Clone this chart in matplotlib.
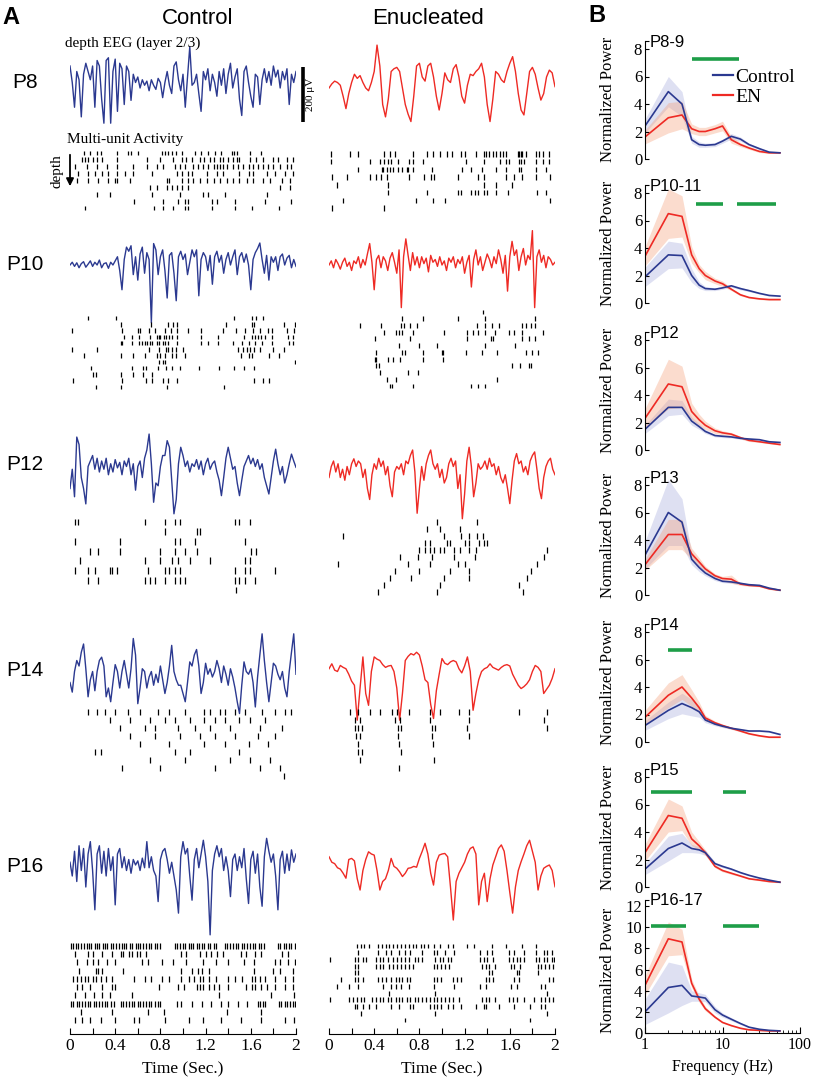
import numpy as np
import matplotlib
matplotlib.use('Agg')
import matplotlib.pyplot as plt
from matplotlib.patches import FancyArrowPatch
from matplotlib.lines import Line2D

SERIF = ['Liberation Serif', 'DejaVu Serif']
SANS = ['Liberation Sans', 'DejaVu Sans']
plt.rcParams['font.family'] = SERIF

BLUE = '#2b3990'
RED = '#ee2a24'
BLUE_FILL = (0.58, 0.60, 0.84, 0.30)
RED_FILL = (0.96, 0.62, 0.47, 0.36)
GREEN = '#1e9e48'

# ---------------- Panel A: depth EEG traces (uV) ----------------
p8_ctrl_eeg = [80, 20, -70, 60, 30, -105, 50, 90, 60, 30, 80, -70, 100, 80, -40, -128, 100, 110, -128, 60,
               105, -85, 90, 70, -60, 80, 60, -45, 50, 20, 40, 0, 30, 10, 25, -10, 30, 10, -5, 35,
               20, -35, 20, 60, 10, -20, 80, 95, 30, -10, 50, -70, 40, 150, 10, 20, 50, -20, -85, 60,
               30, 70, -10, 50, 20, -30, 60, 10, 70, -20, 50, 90, 0, 40, 70, -40, -100, 60, 80, 20,
               -30, -70, 50, 40, -60, 30, 70, 20, 60, 10, 80, 40, 65, 0, 60, 30, 70, -60, 50, 20, 60]
p8_en_eeg = [0, 15, 25, 20, 10, -30, -75, -20, 20, 50, 35, 45, 20, 0, -10, 20, 60, 156, 80, -60,
             -105, -40, 60, 70, 75, 60, 0, -60, -95, -122, -30, 80, 90, 40, 25, 80, 90, 40, -30, -80,
             -20, 55, 30, 20, 70, 85, 40, -30, -55, 10, 50, 45, 60, 70, 90, 40, -60, -122, -40, 60,
             50, 30, 20, 60, 90, 114, 60, -20, -80, -98, -20, 60, 75, 50, 0, -44, -20, 40, 65, 55, 5]
p10_ctrl_eeg = [0, 10, -5, 8, -10, 5, 12, -8, 3, 15, -5, 10, 0, 18, -10, 5, 8, -12, 10, 0,
                15, 30, -20, -90, 20, 65, 50, 70, -35, 30, -55, 40, 65, -30, 45, 20, -210, 78, 55, -35,
                30, 55, -20, -120, 35, 45, -30, -130, 30, 50, 20, 40, -35, 10, 55, 30, 55, -112, 20, 45,
                30, -20, 35, -70, 30, 50, 10, 35, -30, 20, 45, 0, 30, 55, -35, 30, 45, 10, 40, 0,
                -90, 20, 45, 60, 80, 20, -30, 35, -55, 30, 10, 30, -20, 30, 40, 0, 25, 35, -10, 20, -5]
p10_en_eeg = [0, 15, -10, 20, 5, -15, 10, 25, -5, 10, -20, 15, 5, 30, -10, 20, 0, 40, 78, 10,
              -90, 20, 35, -10, 30, 15, -20, 25, 45, 10, -30, 55, -155, 30, 95, 35, -20, 45, 0, 30,
              -10, 30, 5, 25, -25, 35, 10, 20, -5, 30, 0, 15, -20, 25, 10, 30, -10, 20, 5, 30,
              -30, 10, 35, -80, 20, 55, 0, 30, -20, 10, 40, 20, -10, 30, 5, 55, 20, -30, 35, -95,
              30, 86, 35, 55, -20, 30, 60, 0, 35, 20, 125, -155, 30, 55, 10, 35, -10, 30, 20, 0, 10]
p12_ctrl_eeg = [-60, 10, -90, 127, 100, -20, -60, -116, 20, 40, 60, 10, 50, 0, 40, 10, 50, -10, 30, 0,
                45, 15, 35, -10, 40, 20, 50, -10, 30, -66, 20, 40, -20, 50, 80, 138, 30, -110, -40, -50,
                20, 60, 60, 114, 90, -30, -152, -100, 30, 90, 60, 20, 40, 0, 30, 20, 45, 10, 40, -10,
                30, 50, 10, 30, 40, 0, -30, -86, -20, 50, 90, 50, 10, 20, -40, -86, -30, 20, 40, 60,
                30, 50, 20, 45, 10, 30, -20, -50, -80, -20, 40, 83, 30, -10, 20, -40, -10, 30, 65, 40, 17]
p12_en_eeg = [-20, 20, 40, 0, 30, -20, 10, -30, 20, -10, 30, 48, 20, 40, 30, -20, 10, -60, -100, -10,
              30, 10, 50, 20, 40, -10, 20, -50, -90, 0, 20, 10, 30, -10, 40, 30, 60, 80, 0, -150,
              -60, 20, -30, 30, 60, 80, 30, 10, 30, -20, 10, -40, -20, 30, 50, 20, 40, -60, -10, -170,
              -80, 40, 90, 20, -90, -40, 30, 10, 20, 40, 10, 50, 20, 30, -10, 20, -20, -40, -10, -60,
              -115, -30, 40, 67, 30, 40, 0, 20, -10, 40, 60, 73, 10, -60, -97, -20, 20, 40, 50, 10, -10]
p14_ctrl_eeg = [-20, -55, 20, 60, 40, 90, 120, 30, -72, -10, 20, -50, 20, 60, 72, 40, -72, -40, -90, -20,
                45, 20, -40, 20, 60, 10, -40, 30, 140, 80, -97, -40, 30, 20, -40, 0, 20, -30, 10, -20,
                40, -10, -60, -20, 40, 115, 20, -10, -30, -30, -60, -90, -20, 55, 40, 80, 100, 40, -60, -20,
                50, 10, 30, 0, 20, 60, 30, -20, 40, 10, -30, 30, 0, -40, -90, -133, -30, 55, 20, 10,
                30, -20, -109, 0, 80, 157, 60, -20, -90, -20, 50, 40, 10, -10, 20, -40, -72, 20, 90, 157, 10]
p14_en_eeg = [30, 48, 25, 20, 42, 35, 30, 10, -15, -30, -157, -40, 73, -60, -103, 20, 73, 65, 60, 45,
              35, 40, 42, 20, -40, -157, -60, 60, 75, 85, 80, 90, 80, 40, -10, -20, -100, -151, -50, 10,
              67, 50, 45, 55, 60, 55, 30, 15, 40, 73, 20, -121, -60, -10, 20, 30, 35, 48, 35, 30,
              25, 35, 42, 45, 40, 10, -10, -30, -42, -35, -25, -10, 20, 42, 35, 20, -60, -45, -30, -5, 30]
p16_ctrl_eeg = [10, -40, 50, -60, 70, -20, 60, -80, 40, 85, -20, -163, 40, 70, -30, 50, -40, 60, -20, 30,
                -145, 40, 60, -10, 30, -20, 20, -30, 20, 0, 15, -20, 25, -10, 85, -10, 30, -20, -40, -133,
                20, 50, 60, 20, -30, 10, -40, -90, -175, 30, 85, 40, 60, -40, -128, 20, 60, -10, 40, 90,
                30, -60, -254, -20, 40, 70, 30, 60, -20, 30, -20, -115, 20, 40, -20, 30, -10, 60, -50, -140,
                20, 50, -30, 40, -80, -150, 30, 97, 50, 10, 40, -40, -163, 20, 50, -30, 40, -20, 55, 10, 40]
p16_en_eeg = [30, 10, 5, -10, -15, -30, -48, 20, 24, 15, -50, -91, -20, 20, 48, 40, 36, -20, -91, -60,
              -50, -20, 24, -5, -12, -25, -42, -30, -12, -10, -5, -8, 24, 50, 79, 40, -30, -73, 10, 36,
              40, 42, 30, -80, -200, -60, -30, -10, 10, 40, 60, 66, 40, -145, -60, -30, -133, -50, 0, 30,
              60, 73, 50, -20, -100, -175, -80, -20, 12, 40, 70, 90, 50, 10, -91, -40, -12, -5, 0, -20, -79]

# ---------------- Panel A: multi-unit spike times (s), rows top to bottom ----------------
p8_ctrl_spk = [
    [0.12, 0.18, 0.24, 0.27, 0.42, 0.51, 0.54, 0.60, 0.81, 0.84, 0.87, 0.90, 0.94, 0.99, 1.11, 1.16, 1.22, 1.28, 1.34, 1.43, 1.45, 1.48, 1.59, 1.69],
    [0.11, 0.13, 0.16, 0.20, 0.24, 0.28, 0.42, 0.68, 0.80, 0.91, 0.99, 1.03, 1.08, 1.15, 1.19, 1.24, 1.27, 1.33, 1.35, 1.40, 1.44, 1.48, 1.50, 1.59, 1.65, 1.71, 1.80, 1.84, 1.92, 1.97],
    [0.04, 0.15, 0.24, 0.33, 0.42, 0.56, 0.68, 0.77, 0.82, 0.93, 0.97, 1.02, 1.09, 1.13, 1.18, 1.22, 1.27, 1.30, 1.33, 1.35, 1.39, 1.44, 1.49, 1.53, 1.58, 1.62, 1.66, 1.71, 1.75, 1.80, 1.86, 1.92, 1.96],
    [0.07, 0.16, 0.22, 0.28, 0.34, 0.42, 0.49, 0.56, 0.73, 0.95, 0.99, 1.04, 1.08, 1.21, 1.30, 1.35, 1.50, 1.58, 1.62, 1.74, 1.81, 1.90, 1.97],
    [0.06, 0.16, 0.25, 0.34, 0.40, 0.42, 0.53, 0.86, 0.88, 0.99, 1.04, 1.09, 1.15, 1.21, 1.27, 1.33, 1.39, 1.44, 1.50, 1.57, 1.62, 1.71, 1.77, 1.88, 1.95],
    [0.71, 0.77, 0.86, 0.90, 0.95, 0.99, 1.04, 1.86, 1.95],
    [0.24, 0.35, 0.73, 0.97, 1.18, 1.22, 1.37, 1.74],
    [0.57, 0.82, 0.96, 1.02, 1.04, 1.26, 1.30, 1.46, 1.73, 1.96],
    [0.13, 0.74, 0.82, 0.91, 1.02, 1.04, 1.26, 1.46, 1.61, 1.85],
]
p8_en_spk = [
    [0.02, 0.19, 0.26, 0.49, 0.54, 0.58, 0.74, 0.87, 0.92, 0.98, 1.04, 1.09, 1.17, 1.20, 1.30, 1.37, 1.39, 1.42, 1.45, 1.48, 1.51, 1.54, 1.57, 1.67, 1.68, 1.70, 1.71, 1.74, 1.83, 1.86, 1.89, 1.95],
    [0.02, 0.36, 0.45, 0.49, 0.52, 0.55, 0.61, 0.71, 0.74, 0.83, 1.21, 1.37, 1.51, 1.57, 1.59, 1.68, 1.70, 1.73, 1.83, 1.89, 1.95],
    [0.26, 0.47, 0.48, 0.51, 0.54, 0.57, 0.61, 0.65, 0.69, 0.70, 0.74, 0.91, 1.18, 1.26, 1.35, 1.48, 1.57, 1.68, 1.70, 1.83, 1.92],
    [0.03, 0.16, 0.36, 0.42, 0.46, 0.51, 0.71, 0.84, 0.90, 0.93, 1.14, 1.32, 1.37, 1.57, 1.64, 1.71, 1.83, 1.96],
    [0.07, 0.52, 1.37, 1.48, 1.62],
    [0.52, 0.87, 1.14, 1.17, 1.26, 1.29, 1.32, 1.37, 1.40, 1.48, 1.58, 1.84, 1.92],
    [0.12, 0.77, 0.92, 1.03, 1.96],
    [0.03, 0.49],
]
p10_ctrl_spk = [
    [0.16, 0.41, 1.45, 1.61, 1.65, 1.71],
    [0.45, 0.72, 0.87, 0.91, 0.95, 1.38, 1.61, 1.63, 1.89, 1.99],
    [0.02, 0.46, 0.60, 0.62, 0.70, 0.75, 0.84, 0.89, 0.95, 1.04, 1.16, 1.35, 1.47, 1.55, 1.62, 1.68, 1.75, 1.79, 1.92, 1.98],
    [0.48, 0.55, 0.61, 0.71, 0.77, 0.79, 0.80, 0.83, 0.85, 0.88, 0.90, 0.95, 1.16, 1.31, 1.54, 1.61, 1.64, 1.66, 1.69, 1.73, 1.79, 1.93, 1.97],
    [0.45, 0.46, 0.55, 0.61, 0.64, 0.66, 0.68, 0.71, 0.73, 0.77, 0.79, 0.82, 0.84, 0.87, 0.95, 1.16, 1.22, 1.31, 1.44, 1.52, 1.58, 1.64, 1.70, 1.79, 1.94, 1.97],
    [0.02, 0.24, 0.70, 0.79, 0.85, 0.87, 0.90, 0.94, 1.00, 1.49, 1.53, 1.57, 1.59, 1.63, 1.68, 1.80, 1.89],
    [0.12, 0.45, 0.56, 0.66, 0.77, 0.80, 0.84, 0.90, 0.94, 1.02, 1.51, 1.58, 1.61, 1.76, 1.85],
    [0.79, 0.82, 0.84, 1.99],
    [0.19, 0.55, 0.65, 0.67, 0.78, 0.85, 0.90, 0.97, 1.14, 1.32, 1.45, 1.54, 1.63],
    [0.20, 0.23, 0.45, 0.56, 0.65, 0.73],
    [0.03, 0.46, 0.67, 0.73, 0.82, 0.87, 0.95, 1.63, 1.71, 1.76],
    [0.23, 0.45, 0.86, 1.36],
]
p10_en_spk = [
    [1.36],
    [0.65, 0.83, 1.14, 1.38, 1.82],
    [0.27, 0.46, 0.64, 0.66, 0.72, 0.78, 1.31, 1.38, 1.44, 1.50, 1.71, 1.74, 1.79, 1.82],
    [0.49, 0.59, 0.62, 0.65, 0.74, 1.02, 1.22, 1.27, 1.32, 1.38, 1.47, 1.59, 1.64, 1.71, 1.89],
    [0.41, 0.72, 1.22, 1.43, 1.45, 1.71, 1.77, 1.82],
    [0.62, 0.80, 0.96, 1.38, 1.65],
    [0.42, 0.65, 0.67, 0.83, 1.00, 1.01, 1.21, 1.35, 1.49, 1.74, 1.80, 1.85],
    [0.41, 0.42, 0.52, 0.57, 0.63, 0.83, 1.01],
    [0.42, 0.44, 1.62, 1.69, 1.77, 1.79],
    [0.45, 0.70, 0.79],
    [0.51, 0.59, 1.49],
    [0.54, 0.56, 0.74, 1.26, 1.32, 1.38],
]
p12_ctrl_spk = [
    [0.04, 0.07, 0.66, 0.84, 0.93, 0.97, 1.46, 1.50, 1.59],
    [0.84, 1.12, 1.15],
    [0.04, 0.44, 0.93, 0.97, 1.11, 1.55],
    [0.18, 0.25, 0.44, 0.80, 0.93, 1.02, 1.12, 1.60, 1.65],
    [0.09, 0.66, 0.80, 0.90, 0.96, 1.06, 1.24, 1.55, 1.59],
    [0.04, 0.16, 0.22, 0.35, 0.37, 0.42, 0.69, 0.84, 0.88, 0.93, 0.97, 1.46, 1.55, 1.59, 1.81],
    [0.16, 0.25, 0.66, 0.71, 0.75, 0.84, 0.93, 0.97, 1.02, 1.46, 1.50, 1.55, 1.64],
    [1.47],
]
p12_en_spk = [
    [0.96, 1.31],
    [0.87, 0.98, 1.16],
    [0.12, 1.02, 1.17, 1.24, 1.31, 1.36],
    [0.85, 0.89, 1.04, 1.07, 1.20, 1.24, 1.33, 1.37, 1.40],
    [0.80, 0.85, 0.89, 0.93, 0.98, 1.02, 1.11, 1.16, 1.24, 1.30, 1.93],
    [0.63, 0.79, 0.91, 1.11, 1.29, 1.90],
    [0.08, 0.70, 0.89, 1.14, 1.20, 1.84],
    [0.58, 0.80, 1.07, 1.24, 1.79],
    [0.54, 0.73, 1.02, 1.24, 1.75],
    [0.49, 0.98, 1.68],
    [0.43, 0.96, 1.72],
]
p14_ctrl_spk = [
    [0.16, 0.24, 0.31, 0.40, 0.51, 0.62, 0.78, 0.88, 1.02, 1.19, 1.24, 1.33, 1.37, 1.46, 1.55, 1.70, 1.81, 1.90, 1.96],
    [0.35, 0.53, 0.71, 0.84, 0.93, 1.06, 1.19, 1.28, 1.37, 1.50, 1.59, 1.73],
    [0.44, 0.66, 0.75, 0.96, 1.11, 1.24, 1.42, 1.68, 1.88],
    [0.53, 0.75, 0.97, 1.15, 1.28, 1.46, 1.66, 1.81],
    [0.62, 0.88, 1.19, 1.37, 1.58, 1.75],
    [0.22, 0.27, 0.93, 1.06, 1.50],
    [0.71, 1.02, 1.42, 1.59, 1.77],
    [0.46, 0.80, 1.28, 1.68, 1.86],
    [1.89],
]
p14_en_spk = [
    [0.19, 0.26, 0.36, 0.45, 0.56, 0.60, 0.71, 0.89, 0.98, 1.15, 1.24, 1.68, 1.93],
    [0.23, 0.27, 0.58, 0.63, 0.89, 1.24, 1.90],
    [0.23, 0.26, 0.29, 0.61, 0.64, 0.91, 0.94, 1.22, 1.93],
    [0.24, 0.27, 0.61, 0.91, 1.24],
    [0.26, 0.62, 0.92],
    [0.26, 0.29, 0.64],
    [0.27, 0.93],
    [0.62],
]
p16_ctrl_spk = [
    [0.01, 0.03, 0.05, 0.07, 0.10, 0.12, 0.15, 0.17, 0.19, 0.22, 0.24, 0.26, 0.29, 0.31, 0.33, 0.36, 0.38, 0.41, 0.43, 0.46,
     0.48, 0.50, 0.53, 0.55, 0.58, 0.60, 0.62, 0.65, 0.67, 0.70, 0.72, 0.75, 0.77, 0.80, 0.93, 0.95, 0.97, 1.00, 1.02, 1.05,
     1.07, 1.09, 1.12, 1.14, 1.17, 1.19, 1.22, 1.24, 1.27, 1.29, 1.37, 1.39, 1.42, 1.44, 1.47, 1.49, 1.52, 1.54, 1.57, 1.59,
     1.62, 1.64, 1.67, 1.69, 1.72, 1.84, 1.86, 1.89, 1.91, 1.94, 1.96, 1.99],
    [0.04, 0.16, 0.20, 0.28, 0.37, 0.45, 0.47, 0.52, 0.55, 0.59, 0.62, 0.67, 0.98, 1.03, 1.15, 1.20, 1.25, 1.30, 1.35, 1.51, 1.56, 1.64, 1.69, 1.88, 1.93],
    [0.06, 0.15, 0.20, 0.25, 0.33, 0.40, 0.64, 0.69, 0.81, 0.91, 1.03, 1.18, 1.29, 1.40, 1.54, 1.63, 1.81, 1.86, 1.93, 1.99],
    [0.08, 0.23, 0.25, 0.28, 0.47, 0.98, 1.08, 1.13, 1.17, 1.23, 1.63, 1.80, 1.86, 1.97],
    [0.03, 0.06, 0.10, 0.13, 0.16, 0.20, 0.23, 0.27, 0.32, 0.37, 0.57, 0.66, 0.72, 0.81, 0.88, 0.98, 1.05, 1.10, 1.15, 1.18,
     1.23, 1.29, 1.40, 1.46, 1.52, 1.61, 1.64, 1.68, 1.73, 1.81, 1.90, 1.97],
    [0.06, 0.11, 0.18, 0.28, 0.37, 0.40, 0.79, 0.96, 1.01, 1.12, 1.15, 1.18, 1.23, 1.27, 1.32, 1.40, 1.56, 1.61, 1.64, 1.69, 1.74, 1.81, 1.90, 1.97],
    [0.04, 0.13, 0.21, 0.28, 0.35, 0.55, 1.32, 1.78, 1.98],
    [0.01, 0.03, 0.06, 0.08, 0.11, 0.13, 0.16, 0.18, 0.21, 0.23, 0.26, 0.28, 0.31, 0.33, 0.36, 0.39, 0.45, 0.47, 0.50, 0.52,
     0.55, 0.57, 0.60, 0.62, 0.65, 0.67, 0.70, 0.72, 0.75, 0.78, 0.80, 0.95, 0.98, 1.08, 1.17, 1.25, 1.34, 1.40, 1.49, 1.57,
     1.66, 1.68, 1.71, 1.73, 1.85, 1.87, 1.90, 1.92, 1.95, 1.97, 1.99],
    [0.10, 0.37, 0.69, 0.83, 1.39, 1.69],
    [0.04, 0.11, 0.18, 0.27, 0.40, 0.57, 0.61, 0.84, 1.05, 1.18, 1.34, 1.51, 1.69, 1.90, 1.98],
]
p16_en_spk = [
    [0.25, 0.28, 0.31, 0.35, 0.43, 0.47, 0.50, 0.53, 0.57, 0.60, 0.64, 0.67, 0.71, 0.74, 0.77, 0.81, 0.84, 0.88, 0.93, 0.98,
     1.05, 1.10, 1.22, 1.28, 1.44, 1.57, 1.71, 1.83],
    [0.26, 0.43, 0.50, 0.55, 0.62, 0.67, 0.72, 0.82, 0.93, 0.96, 1.03, 1.11, 1.34, 1.40, 1.44, 1.59, 1.64, 1.73, 1.83, 1.90, 1.93, 1.97],
    [0.01, 0.23, 0.26, 0.30, 0.33, 0.42, 0.45, 0.48, 0.52, 0.57, 0.60, 0.64, 0.67, 0.71, 0.76, 0.79, 0.82, 0.94, 0.98, 1.01,
     1.05, 1.08, 1.34, 1.37, 1.40, 1.45, 1.59, 1.63, 1.66, 1.69, 1.73, 1.83, 1.86, 1.90, 1.93, 1.97, 1.99],
    [0.23, 0.26, 0.42, 0.45, 0.48, 0.53, 0.57, 0.60, 0.64, 0.67, 0.71, 0.74, 0.93, 0.96, 0.99, 1.03, 1.06, 1.35, 1.39, 1.42,
     1.47, 1.61, 1.64, 1.69, 1.85, 1.88, 1.91, 1.95, 1.98],
    [0.23, 0.26, 1.42, 1.44, 1.66, 1.68, 1.85],
    [0.11, 0.23, 0.26, 0.30, 0.43, 0.47, 0.50, 0.55, 0.59, 0.62, 0.65, 0.69, 0.72, 0.93, 0.96, 0.99, 1.10, 1.13, 1.17, 1.39,
     1.42, 1.45, 1.64, 1.68, 1.95, 1.98],
    [0.07, 0.18, 0.26, 0.48, 0.55, 0.59, 0.64, 0.71, 0.93, 1.11, 1.34, 1.39, 1.61, 1.66, 1.88, 1.91],
    [0.53, 0.94, 1.93],
    [0.01, 0.18, 0.21, 0.25, 0.28, 0.31, 0.38, 0.42, 0.45, 0.48, 0.52, 0.55, 0.59, 0.62, 0.65, 0.69, 0.72, 0.76, 0.79, 0.82,
     0.86, 0.89, 0.93, 0.96, 0.99, 1.03, 1.06, 1.10, 1.15, 1.35, 1.39, 1.42, 1.47, 1.59, 1.63, 1.66, 1.73, 1.81, 1.88, 1.91,
     1.95, 1.98],
    [0.23, 0.25, 0.30, 0.35, 0.42, 0.55, 0.62, 0.72, 0.74, 0.89, 0.93, 0.96, 0.99, 1.05, 1.10, 1.17, 1.30, 1.37, 1.39, 1.50,
     1.64, 1.78, 1.88, 1.91],
    [0.28, 0.94, 1.93],
    [0.67, 1.78],
]

ages = ['P8', 'P10', 'P12', 'P14', 'P16']
eeg_ctrl = [p8_ctrl_eeg, p10_ctrl_eeg, p12_ctrl_eeg, p14_ctrl_eeg, p16_ctrl_eeg]
eeg_en = [p8_en_eeg, p10_en_eeg, p12_en_eeg, p14_en_eeg, p16_en_eeg]
spk_ctrl = [p8_ctrl_spk, p10_ctrl_spk, p12_ctrl_spk, p14_ctrl_spk, p16_ctrl_spk]
spk_en = [p8_en_spk, p10_en_spk, p12_en_spk, p14_en_spk, p16_en_spk]
time_ticks = [0, 0.4, 0.8, 1.2, 1.6, 2]
time_labels = ['0', '0.4', '0.8', '1.2', '1.6', '2']

# ---------------- Panel B: normalized power spectra ----------------
freqs = [1, 2, 3, 4, 5, 6, 8, 10, 13, 17, 22, 30, 40, 55]
b_titles = ['P8-9', 'P10-11', 'P12', 'P13', 'P14', 'P15', 'P16-17']
b_ctrl = [
    [2.4, 4.9, 4.0, 1.4, 1.05, 1.0, 1.05, 1.3, 1.65, 1.45, 1.05, 0.75, 0.5, 0.45],
    [1.9, 3.5, 3.45, 2.0, 1.3, 1.05, 1.0, 1.1, 1.25, 1.05, 0.9, 0.7, 0.55, 0.5],
    [1.5, 3.1, 3.1, 2.1, 1.7, 1.35, 1.05, 1.0, 0.95, 0.85, 0.8, 0.75, 0.6, 0.55],
    [2.9, 6.0, 5.3, 2.6, 2.0, 1.6, 1.2, 1.0, 0.95, 0.85, 0.75, 0.7, 0.5, 0.35],
    [1.2, 2.3, 2.8, 2.5, 2.2, 1.6, 1.3, 1.15, 1.0, 0.9, 0.8, 0.8, 0.75, 0.55],
    [1.3, 2.8, 3.2, 2.8, 2.7, 2.5, 1.7, 1.5, 1.3, 1.05, 0.85, 0.65, 0.5, 0.35],
    [2.0, 4.3, 4.5, 3.5, 3.4, 3.3, 2.2, 1.7, 1.3, 0.9, 0.55, 0.35, 0.25, 0.2],
]
b_ctrl_sem = [
    [0.5, 1.1, 0.9, 0.25, 0.2, 0.15, 0.15, 0.15, 0.2, 0.15, 0.1, 0.08, 0.05, 0.05],
    [0.7, 1.0, 0.9, 0.5, 0.25, 0.15, 0.1, 0.1, 0.1, 0.1, 0.08, 0.05, 0.05, 0.05],
    [0.3, 0.6, 0.5, 0.3, 0.2, 0.15, 0.1, 0.1, 0.08, 0.08, 0.06, 0.05, 0.05, 0.05],
    [1.0, 2.4, 1.7, 0.4, 0.3, 0.2, 0.15, 0.1, 0.1, 0.08, 0.06, 0.05, 0.05, 0.05],
    [0.35, 0.6, 0.75, 0.6, 0.4, 0.2, 0.12, 0.1, 0.08, 0.06, 0.05, 0.05, 0.05, 0.05],
    [0.4, 0.9, 0.7, 0.3, 0.25, 0.2, 0.12, 0.1, 0.08, 0.06, 0.05, 0.05, 0.05, 0.05],
    [1.2, 2.4, 1.9, 0.5, 0.4, 0.35, 0.3, 0.2, 0.15, 0.1, 0.08, 0.05, 0.05, 0.05],
]
b_en = [
    [1.6, 3.0, 3.2, 2.2, 2.0, 2.0, 2.2, 2.4, 1.4, 1.05, 0.8, 0.55, 0.45, 0.45],
    [3.4, 6.5, 6.3, 3.5, 2.5, 2.0, 1.6, 1.4, 1.0, 0.6, 0.4, 0.3, 0.25, 0.25],
    [2.3, 4.8, 4.6, 2.8, 2.2, 1.8, 1.4, 1.25, 1.15, 0.9, 0.7, 0.6, 0.5, 0.4],
    [2.2, 4.4, 4.4, 3.0, 2.4, 1.9, 1.4, 1.2, 1.15, 0.8, 0.7, 0.65, 0.45, 0.35],
    [1.8, 3.4, 4.0, 3.2, 2.5, 1.75, 1.4, 1.2, 1.0, 0.8, 0.6, 0.45, 0.35, 0.35],
    [2.5, 5.2, 5.0, 3.5, 3.0, 2.5, 1.5, 1.2, 1.0, 0.8, 0.6, 0.5, 0.4, 0.35],
    [4.5, 8.9, 8.6, 4.7, 3.2, 2.3, 1.5, 1.0, 0.7, 0.45, 0.3, 0.25, 0.2, 0.2],
]
b_en_sem = [
    [0.5, 1.1, 1.0, 0.35, 0.3, 0.3, 0.3, 0.35, 0.25, 0.15, 0.1, 0.08, 0.05, 0.05],
    [0.7, 1.8, 1.5, 0.6, 0.3, 0.3, 0.2, 0.2, 0.1, 0.08, 0.05, 0.05, 0.05, 0.05],
    [0.7, 1.8, 1.5, 0.6, 0.4, 0.3, 0.2, 0.15, 0.12, 0.1, 0.08, 0.06, 0.05, 0.05],
    [0.4, 1.1, 1.1, 0.4, 0.3, 0.2, 0.15, 0.15, 0.3, 0.1, 0.06, 0.05, 0.05, 0.05],
    [0.5, 0.9, 0.9, 0.6, 0.4, 0.2, 0.12, 0.1, 0.08, 0.06, 0.05, 0.05, 0.05, 0.05],
    [0.6, 1.2, 0.9, 0.5, 0.3, 0.2, 0.1, 0.1, 0.08, 0.06, 0.05, 0.05, 0.05, 0.05],
    [0.9, 1.6, 1.2, 0.4, 0.3, 0.2, 0.1, 0.08, 0.06, 0.05, 0.05, 0.05, 0.05, 0.05],
]
# significance bars: (f_start, f_end, level)
b_sig = [
    [(4.1, 16.5, 7.3)],
    [(4.6, 10.0, 7.2), (15.6, 49.0, 7.2)],
    [],
    [],
    [(2.0, 4.1, 6.7)],
    [(1.2, 4.1, 6.9), (10.0, 20.0, 6.9)],
    [(1.2, 3.4, 10.1), (10.0, 30.0, 10.1)],
]
b_ymax = [8, 8, 8, 8, 8, 8, 12]

# ---------------- layout helpers (pixels) ----------------
W, H = 817, 1080
fig = plt.figure(figsize=(W / 100, H / 100), dpi=100)


def px_axes(x0, y0, x1, y1):
    return fig.add_axes([x0 / W, 1 - y1 / H, (x1 - x0) / W, (y1 - y0) / H])


def fig_text(x, y, s, **kw):
    fig.text(x / W, 1 - y / H, s, **kw)


CTRL_X = (70, 296)
EN_X = (329, 555)
UV_PER_PX = 200 / 55.0
trace_y = [88, 265, 472, 677, 865]
label_y = [83, 265, 465, 670, 866]
rows_ctrl_y = [(153, 208), (318, 387), (522, 590), (712, 776), (946, 1020)]
rows_en_y = [(154, 208), (312, 386), (522, 592), (712, 768), (946, 1020)]


def draw_raster(rows, xr, yr):
    n = len(rows)
    s = (yr[1] - yr[0]) / (n - 1)
    ax = px_axes(xr[0], yr[0] - s / 2, xr[1], yr[1] + s / 2)
    ax.eventplot(rows, lineoffsets=np.arange(n), linelengths=0.72,
                 linewidths=0.9, colors='black')
    ax.set_xlim(0, 2)
    ax.set_ylim(n - 0.5, -0.5)
    ax.axis('off')


for i, age in enumerate(ages):
    yc = trace_y[i]
    half = 110
    for xr, trace, col in [(CTRL_X, eeg_ctrl[i], BLUE), (EN_X, eeg_en[i], RED)]:
        ax = px_axes(xr[0], yc - half, xr[1], yc + half)
        t = np.linspace(0, 2, len(trace))
        ax.plot(t, trace, color=col, lw=1.0)
        ax.set_xlim(0, 2)
        ax.set_ylim(-half * UV_PER_PX, half * UV_PER_PX)
        ax.axis('off')
        if i == 0 and col == BLUE:
            # 200 uV scale bar
            ax.plot([2.06, 2.06], [-124, 76], color='black', lw=2.6,
                    solid_capstyle='butt', clip_on=False)
            ax.text(2.125, -24, '200 μV', rotation=90, fontsize=8,
                    ha='center', va='center', clip_on=False)
    draw_raster(spk_ctrl[i], CTRL_X, rows_ctrl_y[i])
    draw_raster(spk_en[i], EN_X, rows_en_y[i])
    fig_text(25, label_y[i], age, family=SANS, fontsize=15, ha='center', va='center')

# time axes
for xr in [CTRL_X, EN_X]:
    ax = px_axes(xr[0], 1000, xr[1], 1034)
    ax.patch.set_alpha(0)
    for s in ['top', 'right', 'left']:
        ax.spines[s].set_visible(False)
    ax.spines['bottom'].set_linewidth(0.8)
    ax.set_xlim(0, 2)
    ax.set_yticks([])
    ax.set_xticks(time_ticks)
    ax.set_xticklabels(time_labels)
    ax.set_xticks(np.arange(0, 2.01, 0.2), minor=True)
    ax.tick_params(axis='x', which='both', direction='in', length=4, width=0.8,
                   labelsize=12.5, pad=3)
    ax.set_xlabel('Time (Sec.)', fontsize=12.5, labelpad=5)

# panel A texts
fig_text(11, 17, 'A', family=SANS, fontsize=17, weight='bold', ha='center', va='center')
fig_text(198, 19, 'Control', family=SANS, fontsize=16, ha='center', va='center')
fig_text(428, 19, 'Enucleated', family=SANS, fontsize=16, ha='center', va='center')
fig_text(65, 43, 'depth EEG (layer 2/3)', fontsize=11, ha='left', va='center')
fig_text(67, 140, 'Multi-unit Activity', fontsize=11, ha='left', va='center')
fig_text(57, 171, 'depth', fontsize=11, rotation=90, ha='center', va='center')
fig.add_artist(FancyArrowPatch((70 / W, 1 - 152 / H), (70 / W, 1 - 189 / H),
                               transform=fig.transFigure, arrowstyle='-|>',
                               mutation_scale=11, lw=1.3, color='black'))

# ---------------- Panel B ----------------
fig_text(597, 15, 'B', family=SANS, fontsize=17, weight='bold', ha='center', va='center')
zero_y = [159, 303, 450, 595, 742, 887, 1033]
for k in range(len(b_titles)):
    y0 = zero_y[k]
    ymax = b_ymax[k]
    px_per = 110 / 8.0 if ymax == 8 else 127 / 12.0
    top = ymax + 0.55 if ymax == 8 else ymax + 0.6
    ax = px_axes(645, y0 - top * px_per, 800, y0)
    ax.patch.set_alpha(0)
    ax.set_xscale('log')
    ax.set_xlim(1, 100)
    ax.set_ylim(0, top)
    c = np.array(b_ctrl[k])
    cs = np.array(b_ctrl_sem[k])
    e = np.array(b_en[k])
    es = np.array(b_en_sem[k])
    ax.fill_between(freqs, c - cs, c + cs, color=BLUE_FILL, lw=0)
    ax.fill_between(freqs, e - es, e + es, color=RED_FILL, lw=0)
    ax.plot(freqs, e, color=RED, lw=1.2)
    ax.plot(freqs, c, color=BLUE, lw=1.2)
    for f0, f1, lv in b_sig[k]:
        ax.plot([f0, f1], [lv, lv], color=GREEN, lw=2.6, solid_capstyle='butt')
    for s in ['top', 'right']:
        ax.spines[s].set_visible(False)
    ax.spines['left'].set_linewidth(0.8)
    ax.set_yticks(list(range(0, ymax + 1, 2)))
    ax.set_yticks([top], minor=True)
    ax.tick_params(axis='y', which='both', direction='in', length=3, width=0.8,
                   labelsize=12, pad=2)
    ax.tick_params(axis='y', which='minor', labelleft=False)
    if k == len(b_titles) - 1:
        ax.spines['bottom'].set_linewidth(0.8)
        ax.set_xticks([1, 10, 100])
        ax.set_xticklabels(['1', '10', '100'])
        ax.tick_params(axis='x', which='major', direction='in', length=4, width=0.8,
                       labelsize=11.5, pad=3)
        ax.tick_params(axis='x', which='minor', direction='in', length=2, width=0.6)
        ax.set_xlabel('Frequency (Hz)', fontsize=11.5, labelpad=4)
    else:
        ax.spines['bottom'].set_visible(False)
        ax.tick_params(axis='x', which='both', bottom=False, labelbottom=False)
    ax.text(0.03, 0.99, b_titles[k], transform=ax.transAxes, family=SANS,
            fontsize=12, ha='left', va='center')
    fig_text(608, y0 - (60 if ymax == 8 else 63), 'Normalized Power', fontsize=12,
             rotation=90, ha='center', va='center')
    if k == 0:
        handles = [Line2D([], [], color=BLUE, lw=1.6), Line2D([], [], color=RED, lw=1.6)]
        ax.legend(handles, ['Control', 'EN'], loc='upper left', bbox_to_anchor=(0.44, 0.77),
                  frameon=False, fontsize=14, handlelength=1.0, handletextpad=0.12,
                  labelspacing=0.1, borderpad=0, borderaxespad=0)

fig.savefig('out.png', dpi=100)
